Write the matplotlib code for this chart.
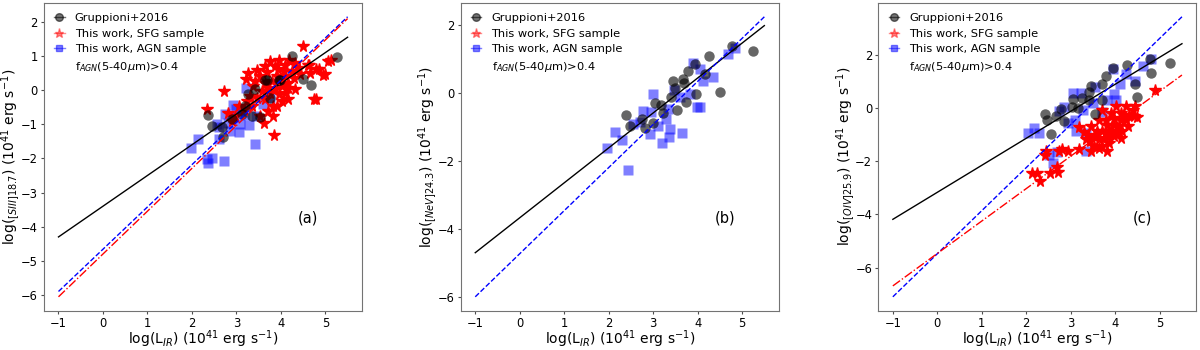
import matplotlib.pyplot as plt
import numpy as np
from matplotlib.lines import Line2D
from matplotlib.ticker import MultipleLocator

# ---- panel (a): [SIII]18.7 ----
a_grup_x = [2.37, 2.46, 2.67, 2.71, 2.90, 3.12, 3.20, 3.42, 3.65, 3.76, 3.98, 4.26,
            4.49, 4.68, 5.26, 3.35, 3.53, 3.27, 3.68, 3.95]
a_grup_y = [-0.73, -1.04, -1.09, -1.38, -0.85, -0.70, -0.46, 0.02, 0.29, -0.22, 0.31, 1.01,
            0.33, 0.15, 0.97, -0.75, -0.80, -0.12, 0.31, 0.31]
a_sfg_x = [4.49, 5.13, 4.86, 5.00, 4.66, 4.64, 4.79, 3.84, 3.63, 2.73, 2.33, 2.81, 3.26, 3.21,
           3.42, 3.68, 3.86, 3.93, 4.10, 4.19, 4.32, 4.40, 4.25, 4.10, 3.98, 3.87, 4.10, 4.02,
           3.83, 3.72, 3.83, 3.65, 3.57, 3.76, 3.95, 3.80, 3.65, 3.53, 3.38, 3.31, 3.46, 3.35,
           3.16, 2.97, 3.05, 3.23, 4.17, 4.29, 4.44, 4.02, 4.17, 4.32, 4.06, 3.95, 3.76, 3.65,
           3.46, 3.91, 3.72, 3.91, 4.17, 3.53, 2.90, 4.74, 4.94, 5.07, 4.80, 4.60]
a_sfg_y = [1.28, 0.87, 0.62, 0.46, 0.50, 0.75, -0.27, -1.31, -0.95, -0.03, -0.56, -0.66, 0.50, 0.33,
           0.26, 0.53, 0.72, 0.62, 0.75, 0.89, 0.79, 0.65, 0.55, 0.41, 0.21, 0.02, -0.08, -0.32,
           -0.46, -0.61, -0.75, -0.27, -0.03, -0.08, -0.12, 0.26, 0.21, 0.41, 0.12, -0.17, -0.22, -0.46,
           -0.56, -0.75, -0.46, -0.32, 0.21, 0.36, 0.46, 0.12, 0.07, 0.02, 0.55, 0.89, 0.84, 0.70,
           0.60, 0.41, 0.07, -0.46, -0.27, -0.75, -0.90, -0.25, 0.43, 0.84, 0.63, 0.73]
a_agn_x = [1.99, 2.14, 2.33, 2.37, 2.45, 2.72, 3.42, 3.29, 3.07, 3.05, 2.86, 2.60, 2.62, 2.93,
           3.21, 3.19, 3.45, 2.56, 2.75, 2.95, 3.10, 3.76, 2.80, 3.00, 3.60]
a_agn_y = [-1.69, -1.43, -2.03, -2.12, -1.99, -2.08, -1.57, -1.01, -0.99, -1.24, -1.19, -1.09, -1.43, -0.44,
           0.07, -0.73, -0.75, -0.98, -0.70, -0.80, -0.60, -0.22, -0.95, -0.55, -0.40]

# ---- panel (b): [NeV]24.3 ----
b_grup_x = [2.39, 2.48, 2.76, 2.81, 2.99, 3.04, 3.17, 3.23, 3.45, 3.49, 3.66, 3.70, 3.79, 3.95,
            3.96, 3.74, 3.53, 4.16, 4.26, 4.50, 4.77, 5.25, 3.41]
b_grup_y = [-0.65, -0.97, -0.75, -1.02, -0.88, -0.28, -0.36, -0.58, 0.35, 0.17, 0.42, 0.30, 0.66, 0.87,
            -0.02, -0.26, -0.49, 0.56, 1.10, 0.03, 1.39, 1.24, -0.12]
b_agn_x = [1.97, 2.14, 2.29, 2.44, 2.55, 2.93, 3.00, 3.19, 3.36, 3.38, 3.64, 3.30, 3.47, 3.60,
           3.83, 3.98, 4.05, 3.90, 4.05, 4.13, 4.35, 4.69, 4.84, 2.78, 2.96, 3.34, 3.10, 2.70]
b_agn_y = [-1.62, -1.14, -1.38, -2.26, -0.91, -1.21, -0.02, -1.48, -1.28, -1.04, -1.17, -0.75, 0.10, -0.12,
           -0.02, -0.41, -0.41, 0.90, 0.71, 0.37, 0.47, 1.15, 1.34, -0.51, -0.55, -0.46, -0.96, -0.85]

# ---- panel (c): [OIV]25.9 ----
c_grup_x = [5.23, 4.79, 4.80, 4.26, 4.45, 4.50, 3.80, 3.94, 3.71, 3.45, 3.42, 3.71, 3.40, 3.17,
            3.02, 2.79, 2.84, 2.55, 2.41, 2.47, 2.66, 3.06, 3.25, 3.55]
c_grup_y = [1.69, 1.85, 1.31, 1.62, 0.89, 0.41, 1.20, 1.50, 0.90, 0.84, 0.60, 0.30, 0.30, 0.00,
            0.02, -0.04, -0.50, -0.98, -0.23, -0.45, -0.29, 0.32, 0.38, -0.23]
c_sfg_x = [4.89, 2.13, 2.25, 2.30, 2.44, 2.54, 2.69, 2.71, 2.74, 2.81, 2.94, 3.19, 3.19, 3.29,
           3.34, 3.45, 3.46, 3.53, 3.64, 3.64, 3.70, 3.79, 3.81, 3.86, 3.90, 3.97, 4.01, 4.09,
           4.13, 4.19, 4.24, 4.28, 4.39, 4.45, 4.50, 4.42, 3.90, 3.75, 3.60, 3.71, 3.64, 3.82,
           3.97, 4.05, 4.16, 4.24, 4.31, 4.13, 3.98, 3.86, 3.53, 3.71, 3.38, 3.44, 3.79, 4.13,
           2.42]
c_sfg_y = [0.69, -2.43, -2.45, -2.76, -1.63, -2.45, -2.20, -2.42, -1.62, -1.53, -1.62, -1.56, -0.71, -0.91,
           -1.18, -1.62, -0.69, -1.06, -1.50, -0.44, -0.06, -0.94, -1.62, -1.31, -0.88, -0.38, 0.06, -0.69,
           -1.13, -0.25, 0.09, -0.69, -0.06, 0.09, -0.34, -0.31, -0.19, -1.13, -0.88, -0.88, -1.18, -0.63,
           -1.06, -0.88, -0.88, -0.44, -0.25, -0.19, -0.63, -1.06, -1.43, -1.43, -1.00, -1.25, -0.44, -0.44,
           -1.75]
c_agn_x = [2.03, 2.17, 2.28, 2.59, 2.70, 2.52, 3.06, 3.23, 3.12, 3.34, 3.34, 3.94, 4.24, 4.45,
           4.62, 4.80, 4.02, 3.98, 2.74, 2.85, 2.94, 3.09, 3.27, 3.71, 3.82, 3.55, 4.10, 3.50]
c_agn_y = [-0.95, -0.74, -0.95, -2.07, -1.64, -1.75, 0.55, 0.55, -0.88, -1.62, -0.94, 1.48, 1.27, 1.00,
           1.57, 1.86, 0.29, 0.53, -0.10, 0.02, -0.57, -0.45, -0.06, -0.14, 0.30, 0.80, 0.90, 0.20]

# fitted relations (slope, intercept), drawn over L_IR = -1 .. 5.5
fit_x = [-1, 5.5]
fits = {
    'a': {'grup': (0.90, -3.40), 'agn': (1.238, -4.66), 'sfg': (1.254, -4.80)},
    'b': {'grup': (1.03, -3.67), 'agn': (1.27, -4.73), 'sfg': None},
    'c': {'grup': (1.016, -3.17), 'agn': (1.62, -5.48), 'sfg': (1.22, -5.47)},
}

panels = [
    ('a', r'log($_{[SIII]18.7}$) (10$^{41}$ erg s$^{-1}$)', 1,
     (a_grup_x, a_grup_y), (a_sfg_x, a_sfg_y), (a_agn_x, a_agn_y)),
    ('b', r'log($_{[NeV]24.3}$) (10$^{41}$ erg s$^{-1}$)', 2,
     (b_grup_x, b_grup_y), None, (b_agn_x, b_agn_y)),
    ('c', r'log($_{[OIV]25.9}$) (10$^{41}$ erg s$^{-1}$)', 2,
     (c_grup_x, c_grup_y), (c_sfg_x, c_sfg_y), (c_agn_x, c_agn_y)),
]

fig = plt.figure(figsize=(12, 3.5), dpi=100)
lefts = [0.0367, 0.384, 0.732]

# legend handles (small marker with a short line through it)
handles = [
    Line2D([], [], color='k', alpha=0.55, marker='o', ms=5.5, lw=1),
    Line2D([], [], color='r', alpha=0.45, marker='*', ms=6.5, lw=1),
    Line2D([], [], color='b', alpha=0.5, marker='s', ms=4.5, lw=1),
    Line2D([], [], linestyle='none'),
]
labels = ['Gruppioni+2016', 'This work, SFG sample', 'This work, AGN sample',
          r'f$_{AGN}$(5-40$\mu$m)>0.4']

for left, (key, ylab, ystep, grup, sfg, agn) in zip(lefts, panels):
    ax = fig.add_axes([left, 0.112, 0.265, 0.88])
    xx = np.array(fit_x)

    ax.plot(agn[0], agn[1], 's', color='b', alpha=0.5, ms=7, mec='none')
    if sfg is not None:
        ax.plot(sfg[0], sfg[1], '*', color='r', ms=8.5, mec='r')
    ax.plot(grup[0], grup[1], 'o', color='k', alpha=0.6, ms=7.5, mec='none')

    m, q = fits[key]['grup']
    ax.plot(xx, m * xx + q, '-', color='k', lw=1)
    m, q = fits[key]['agn']
    ax.plot(xx, m * xx + q, '--', color='b', lw=1)
    if fits[key]['sfg'] is not None:
        m, q = fits[key]['sfg']
        ax.plot(xx, m * xx + q, '-.', color='r', lw=1)

    ax.text(0.83, 0.30, '(%s)' % key, transform=ax.transAxes, fontsize=10.5,
            ha='center', va='center')

    ax.xaxis.set_major_locator(MultipleLocator(1))
    ax.yaxis.set_major_locator(MultipleLocator(ystep))
    ax.tick_params(labelsize=8.3, pad=2, length=2.5, color='0.3')
    ax.set_xlabel(r'log(L$_{IR}$) (10$^{41}$ erg s$^{-1}$)', fontsize=10, labelpad=-1)
    ax.set_ylabel(ylab, fontsize=10, labelpad=-1)
    for s in ax.spines.values():
        s.set_color('0.45')

    ax.legend(handles, labels, loc='upper left', frameon=False, fontsize=8.2,
              handlelength=0.9, handletextpad=0.9, labelspacing=0.5,
              borderaxespad=0.5)

fig.savefig('out.png', dpi=100)
